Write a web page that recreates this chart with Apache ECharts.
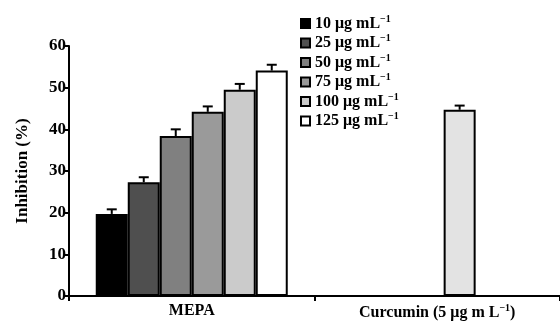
<!DOCTYPE html>
<html>
<head>
<meta charset="utf-8">
<script src="https://cdn.jsdelivr.net/npm/echarts@6/dist/echarts.min.js"></script>
<style>html,body{margin:0;padding:0;background:#fff}#c{width:560px;height:324px}</style>
</head>
<body>
<div id="c"></div>
<script>
// ---- data ----
const categories = ['MEPA', 'Curcumin'];
const concentrations = ['10', '25', '50', '75', '100', '125'];
const mepaValues = [19.7, 27.3, 38.4, 44.2, 49.5, 54.1];
const mepaErrors = [1.1, 1.2, 1.6, 1.3, 1.4, 1.4];
const curcuminValue = 44.7;
const curcuminError = 1.0;
const yTicks = [0, 10, 20, 30, 40, 50, 60];

// ---- style ----
const FONT = 'Liberation Serif';
const BAR_W = 32;
const MEPA_GAP = 0;      // bar gap fraction inside MEPA group
const CURC_GAP = 0.4;    // bar gap fraction inside curcumin group
const fills = ['#000000', '#4f4f4f', '#808080', '#9a9a9a', '#cbcbcb', '#ffffff'];
const curcuminFill = '#e3e3e3';
const legendNames = concentrations.map(c => c + ' μg mL');

const series = [];
concentrations.forEach((c, i) => {
  series.push({
    name: legendNames[i],
    type: 'bar',
    xAxisIndex: 0,
    barWidth: BAR_W,
    barGap: (MEPA_GAP * 100) + '%',
    data: [mepaValues[i], '-'],
    itemStyle: { color: fills[i], borderColor: '#000', borderWidth: 2 },
    z: 2
  });
});
// curcumin group (on hidden axis): empty slot + curcumin bar
series.push({
  name: 'slot', type: 'bar', xAxisIndex: 1, barWidth: BAR_W, barGap: (CURC_GAP * 100) + '%',
  data: ['-', '-'], silent: true
});
series.push({
  name: 'Curcumin', type: 'bar', xAxisIndex: 1, barWidth: BAR_W, barGap: (CURC_GAP * 100) + '%',
  data: ['-', curcuminValue],
  itemStyle: { color: curcuminFill, borderColor: '#000', borderWidth: 2 },
  z: 2
});

// error bars: [category, value, error, slot, slotsInGroup, gapFraction]
const errData = mepaValues.map((v, i) => [0, v, mepaErrors[i], i, concentrations.length, MEPA_GAP]);
errData.push([1, curcuminValue, curcuminError, 1, 2, CURC_GAP]);

series.push({
  type: 'custom',
  xAxisIndex: 0,
  z: 5,
  silent: true,
  data: errData,
  renderItem: function (params, api) {
    const cat = api.value(0), v = api.value(1), e = api.value(2);
    const slot = api.value(3), n = api.value(4), g = api.value(5);
    const off = (slot - (n - 1) / 2) * BAR_W * (1 + g);
    const p0 = api.coord([cat, v]);
    const p1 = api.coord([cat, v + e]);
    const x = p0[0] + off;
    const st = { stroke: '#000', lineWidth: 2 };
    return {
      type: 'group',
      children: [
        { type: 'line', shape: { x1: x, y1: p0[1], x2: x, y2: p1[1] }, style: st },
        { type: 'line', shape: { x1: x - 5, y1: p1[1], x2: x + 5, y2: p1[1] }, style: st }
      ]
    };
  }
});

const chart = echarts.init(document.getElementById('c'), null, { renderer: 'canvas' });
chart.setOption({
  animation: false,
  backgroundColor: '#fff',
  textStyle: { fontFamily: FONT },
  grid: { left: 69, right: 0, top: 46, bottom: 28, containLabel: false },
  legend: {
    data: legendNames,
    orient: 'vertical',
    left: 295,
    top: 9,
    itemWidth: 9,
    itemHeight: 9,
    itemGap: 2,
    icon: 'rect',
    selectedMode: false,
    itemStyle: { borderColor: '#000', borderWidth: 2 },
    formatter: function (name) { return '{a|' + name + '}{s|−1}'; },
    textStyle: {
      fontFamily: FONT, fontWeight: 'bold', fontSize: 16, color: '#000',
      rich: {
        a: { fontFamily: FONT, fontWeight: 'bold', fontSize: 16, color: '#000', lineHeight: 16 },
        s: { fontFamily: FONT, fontWeight: 'bold', fontSize: 10, color: '#000', padding: [0, 0, 9, 0] }
      }
    }
  },
  xAxis: [
    {
      type: 'category',
      data: categories,
      boundaryGap: true,
      axisLine: { lineStyle: { color: '#000', width: 2 } },
      axisTick: { show: true, length: 5, inside: false, lineStyle: { color: '#000', width: 2 } },
      axisLabel: {
        margin: 7,
        formatter: function (v) {
          if (v === 'Curcumin') return '{a|Curcumin (5 μg m L}{s|−1}{a|)}';
          return '{a|' + v + '}';
        },
        rich: {
          a: { fontFamily: FONT, fontWeight: 'bold', fontSize: 16, color: '#000' },
          s: { fontFamily: FONT, fontWeight: 'bold', fontSize: 10, color: '#000', padding: [0, 0, 9, 0] }
        }
      },
      splitLine: { show: false }
    },
    {
      type: 'category',
      data: categories,
      show: false,
      boundaryGap: true
    }
  ],
  yAxis: {
    type: 'value',
    min: 0, max: 60, interval: 10,
    name: 'Inhibition (%)',
    nameLocation: 'middle',
    nameGap: 38,
    nameRotate: 90,
    nameTextStyle: { fontFamily: FONT, fontWeight: 'bold', fontSize: 17, color: '#000' },
    axisLine: { show: true, lineStyle: { color: '#000', width: 2 } },
    axisTick: { show: true, length: 5, lineStyle: { color: '#000', width: 2 } },
    axisLabel: {
      margin: 3,
      fontFamily: FONT, fontWeight: 'bold', fontSize: 17, color: '#000',
      formatter: function (v) { return yTicks.indexOf(v) >= 0 ? String(v) : ''; }
    },
    splitLine: { show: false }
  },
  series: series
});
</script>
</body>
</html>
